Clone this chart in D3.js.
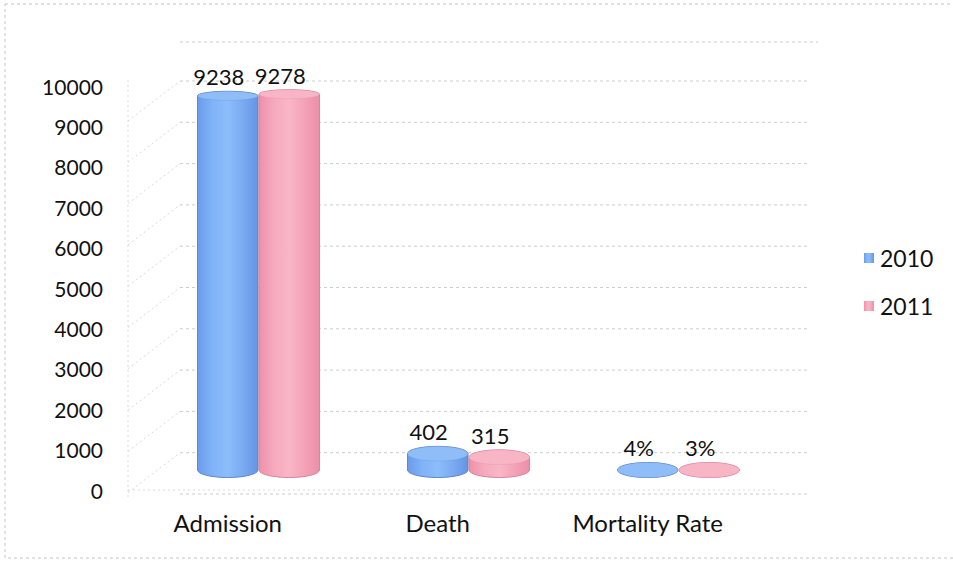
<!DOCTYPE html>
<html>
<head>
<meta charset="utf-8">
<script src="https://cdn.jsdelivr.net/npm/d3@7"></script>
<style>
  html, body { margin: 0; padding: 0; background: #fff; }
  svg { display: block; }
  text { font-family: Lato, "Open Sans", sans-serif; fill: #111; }
</style>
</head>
<body>
<svg id="chart" width="953" height="562"></svg>
<script>
// Chart data
const categories = ["Admission", "Death", "Mortality Rate"];
const seriesNames = ["2010", "2011"];
const values2010 = [9238, 402, 0.04];
const values2011 = [9278, 315, 0.03];
const labels2010 = ["9238", "402", "4%"];
const labels2011 = ["9278", "315", "3%"];
const yTicks = [0, 1000, 2000, 3000, 4000, 5000, 6000, 7000, 8000, 9000, 10000];

const svg = d3.select("#chart");

// Outer chart-area border (dotted)
svg.append("rect")
  .attr("x", 5).attr("y", 4).attr("width", 980).attr("height", 554)
  .attr("fill", "none").attr("stroke", "#c4c4c4").attr("stroke-width", 1)
  .attr("stroke-dasharray", "3,3");

// Scales
const x = d3.scaleBand().domain(categories).range([197, 740])
  .paddingInner(0.414).paddingOuter(0);
const xs = d3.scaleBand().domain(seriesNames).range([0, x.bandwidth()]);
const yBar = d3.scaleLinear().domain([0, 10000]).range([470, 65]);   // column depth plane
const yGrid = d3.scaleLinear().domain([0, 10000]).range([494, 81]);  // back wall
const yLab = d3.scaleLinear().domain([0, 10000]).range([490, 86]);   // axis labels

const wallLeft = 180, wallRight = 808, sideFront = 128;

// Back wall gridlines
const grid = svg.append("g").attr("stroke", "#cdcdcd").attr("stroke-width", 1)
  .attr("stroke-dasharray", "3,3").attr("fill", "none");
yTicks.forEach(v => {
  grid.append("line")
    .attr("x1", wallLeft).attr("x2", wallRight)
    .attr("y1", yGrid(v)).attr("y2", yGrid(v));
});
grid.append("line").attr("x1", wallLeft).attr("x2", wallRight + 10)
  .attr("y1", 42).attr("y2", 42);

// Side wall: front edge and diagonal gridlines
const side = svg.append("g").attr("stroke", "#dadada").attr("stroke-width", 1)
  .attr("stroke-dasharray", "2,3").attr("fill", "none");
side.append("line").attr("x1", sideFront).attr("x2", sideFront)
  .attr("y1", 80).attr("y2", 500);
yTicks.slice(1).forEach(v => {
  side.append("line")
    .attr("x1", sideFront).attr("y1", yGrid(v) + 40)
    .attr("x2", wallLeft).attr("y2", yGrid(v));
});
// Floor front edge
side.append("line").attr("x1", sideFront).attr("x2", wallRight - 30)
  .attr("y1", 490).attr("y2", 490);

// Y axis labels
svg.append("g").selectAll("text").data(yTicks).join("text")
  .attr("x", 103).attr("y", d => yLab(d))
  .attr("text-anchor", "end").attr("dominant-baseline", "central")
  .attr("font-size", 21)
  .text(d => d);

// Gradients for cylinder shading
const defs = svg.append("defs");
const palettes = {
  "2010": { stops: ["#6a9ce9", "#80b3f8", "#8cbdfb", "#7aaaf2", "#6495e3"], top: "#8fbdf8", edge: "#5f87c8" },
  "2011": { stops: ["#ee90a9", "#f6aabe", "#f9b6c7", "#f4a2b8", "#eb8fa7"], top: "#f8b5c6", edge: "#d9849b" }
};
seriesNames.forEach(s => {
  const g = defs.append("linearGradient").attr("id", "grad" + s)
    .attr("x1", "0%").attr("x2", "100%").attr("y1", "0%").attr("y2", "0%");
  palettes[s].stops.forEach((c, i, arr) => {
    g.append("stop").attr("offset", (i / (arr.length - 1) * 100) + "%").attr("stop-color", c);
  });
});

// Ellipse vertical radius grows toward the floor (perspective)
const ryAt = y => 4.5 + 3 * (y - 90) / (470 - 90);

const rows = categories.map((c, i) => ({
  category: c,
  bars: [
    { series: "2010", value: values2010[i], label: labels2010[i] },
    { series: "2011", value: values2011[i], label: labels2011[i] }
  ]
}));

const barsG = svg.append("g");
rows.forEach(row => {
  row.bars.forEach(b => {
    const bw = xs.bandwidth();
    const cx = x(row.category) + xs(b.series) + bw / 2;
    const rx = bw / 2 - 0.5;
    const y0 = yBar(0), y1 = yBar(b.value);
    const ry0 = ryAt(y0), ry1 = ryAt(y1);
    const p = palettes[b.series];
    const body = `M${cx - rx},${y1} L${cx - rx},${y0} A${rx},${ry0} 0 0 0 ${cx + rx},${y0} ` +
      `L${cx + rx},${y1} A${rx},${ry1} 0 0 0 ${cx - rx},${y1} Z`;
    barsG.append("path").attr("d", body)
      .attr("fill", `url(#grad${b.series})`)
      .attr("stroke", p.edge).attr("stroke-width", 1);
    barsG.append("ellipse")
      .attr("cx", cx).attr("cy", y1).attr("rx", rx).attr("ry", ry1)
      .attr("fill", p.top).attr("stroke", p.edge).attr("stroke-width", 0.8)
      .attr("stroke-opacity", 0.3);
    // Value label
    barsG.append("text")
      .attr("x", cx - 9).attr("y", y1 - ry1 - 6)
      .attr("text-anchor", "middle").attr("font-size", 22)
      .text(b.label);
  });
});

// Category labels
svg.append("g").selectAll("text").data(categories).join("text")
  .attr("x", d => x(d) + xs("2010") + xs.bandwidth() / 2)
  .attr("y", 532).attr("text-anchor", "middle").attr("font-size", 24)
  .text(d => d);

// Legend
const legend = svg.append("g");
seriesNames.forEach((s, i) => {
  const ly = 258 + i * 48;
  legend.append("rect").attr("x", 864).attr("y", ly - 5).attr("width", 10).attr("height", 10)
    .attr("fill", `url(#grad${s})`);
  legend.append("text").attr("x", 880).attr("y", ly).attr("dominant-baseline", "central")
    .attr("font-size", 23).text(s);
});
</script>
</body>
</html>
